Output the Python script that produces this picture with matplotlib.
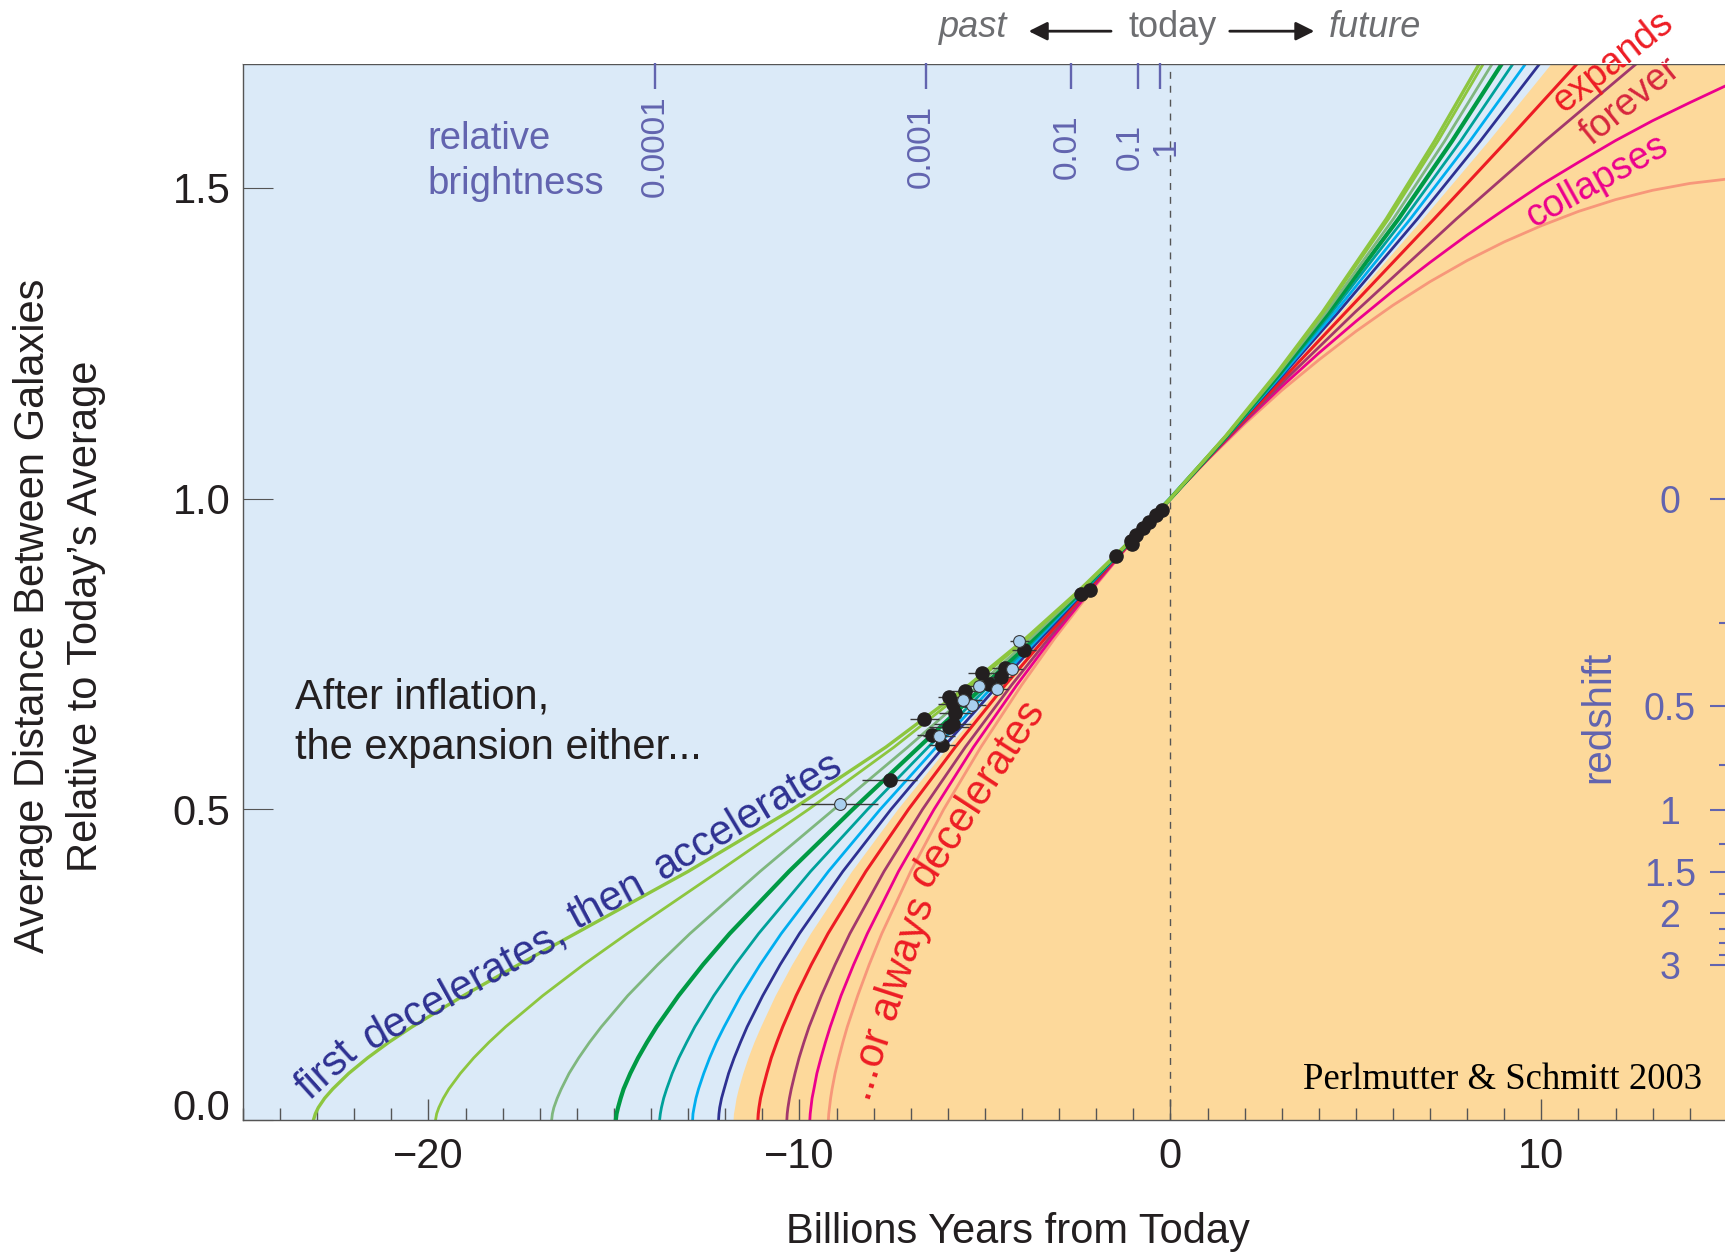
import numpy as np
import matplotlib
matplotlib.use("Agg")
import matplotlib.pyplot as plt
from matplotlib.transforms import ScaledTranslation

plt.rcParams["font.family"] = ["Liberation Sans", "DejaVu Sans"]

# scale factor levels (y) shared by the expanding models
A_LEVELS = [0.0, 0.01, 0.02, 0.035, 0.05, 0.075, 0.1, 0.125, 0.15, 0.2, 0.25, 0.3, 0.4,
            0.5, 0.6, 0.7, 0.775, 0.85, 0.925, 1.0, 1.1, 1.2, 1.3, 1.45, 1.575, 1.7]

# time (billions of years from today) at each level, one list per curve
T_095 = [-23.10, -23.05, -22.97, -22.80, -22.58, -22.15, -21.64, -21.07, -20.44, -19.06, -17.57, -16.04,
         -13.00, -10.19, -7.67, -5.43, -3.90, -2.50, -1.20, 0.0, 1.48, 2.84, 4.10, 5.82, 7.12, 8.33]
T_090 = [-19.81, -19.78, -19.72, -19.60, -19.45, -19.14, -18.78, -18.37, -17.92, -16.92, -15.82, -14.64,
         -12.18, -9.75, -7.45, -5.33, -3.86, -2.48, -1.20, 0.0, 1.49, 2.86, 4.13, 5.88, 7.21, 8.44]
T_080 = [-16.68, -16.66, -16.62, -16.53, -16.42, -16.21, -15.95, -15.66, -15.34, -14.63, -13.82, -12.95,
         -11.06, -9.07, -7.08, -5.16, -3.77, -2.45, -1.19, 0.0, 1.50, 2.89, 4.20, 6.01, 7.39, 8.68]
T_070 = [-14.95, -14.93, -14.89, -14.82, -14.74, -14.56, -14.35, -14.11, -13.85, -13.26, -12.60, -11.88,
         -10.28, -8.56, -6.78, -5.00, -3.69, -2.42, -1.19, 0.0, 1.51, 2.93, 4.27, 6.15, 7.59, 8.94]
T_060 = [-13.77, -13.75, -13.72, -13.66, -13.58, -13.43, -13.25, -13.04, -12.82, -12.31, -11.73, -11.10,
         -9.70, -8.16, -6.53, -4.87, -3.62, -2.39, -1.18, 0.0, 1.52, 2.97, 4.35, 6.30, 7.82, 9.24]
T_050 = [-12.88, -12.87, -12.84, -12.79, -12.72, -12.58, -12.42, -12.24, -12.03, -11.58, -11.06, -10.49,
         -9.22, -7.82, -6.31, -4.75, -3.56, -2.36, -1.17, 0.0, 1.53, 3.01, 4.44, 6.47, 8.07, 9.58]
T_040 = [-12.18, -12.17, -12.15, -12.10, -12.03, -11.91, -11.76, -11.59, -11.41, -10.99, -10.52, -10.00,
         -8.83, -7.53, -6.12, -4.64, -3.49, -2.33, -1.17, 0.0, 1.54, 3.05, 4.53, 6.66, 8.35, 9.96]
T_EDGE = [-11.79, -11.78, -11.75, -11.71, -11.65, -11.53, -11.39, -11.23, -11.05, -10.66, -10.21, -9.71,
          -8.60, -7.36, -6.01, -4.57, -3.46, -2.32, -1.16, 0.0, 1.55, 3.08, 4.59, 6.79, 8.56, 10.26]
T_020 = [-11.12, -11.11, -11.09, -11.05, -10.99, -10.88, -10.76, -10.61, -10.45, -10.09, -9.68, -9.23,
         -8.21, -7.06, -5.80, -4.45, -3.38, -2.28, -1.15, 0.0, 1.56, 3.15, 4.73, 7.11, 9.06, 10.97]
T_000 = [-10.34, -10.33, -10.31, -10.27, -10.22, -10.12, -10.01, -9.88, -9.74, -9.41, -9.04, -8.64,
         -7.72, -6.68, -5.53, -4.28, -3.28, -2.24, -1.14, 0.0, 1.59, 3.25, 4.98, 7.71, 10.09, 12.57]

# the two collapsing curves: past on A_LEVELS up to 1.0, future on a time grid
T_M020_PAST = [-9.72, -9.71, -9.69, -9.66, -9.61, -9.53, -9.42, -9.30, -9.17, -8.88, -8.54, -8.17,
               -7.33, -6.37, -5.31, -4.14, -3.20, -2.19, -1.13, 0.0]
T_M040_PAST = [-9.22, -9.21, -9.19, -9.16, -9.12, -9.04, -8.94, -8.83, -8.71, -8.43, -8.12, -7.78,
               -7.00, -6.11, -5.11, -4.01, -3.12, -2.15, -1.12, 0.0]
T_FUTURE = [1, 2, 3, 4, 5, 6, 7, 8, 9, 10, 11, 12, 13, 14, 15]
A_M020_FUTURE = [1.063, 1.123, 1.180, 1.234, 1.285, 1.334, 1.380, 1.424, 1.465, 1.505,
                 1.541, 1.576, 1.608, 1.637, 1.665]
A_M040_FUTURE = [1.062, 1.120, 1.174, 1.223, 1.269, 1.311, 1.349, 1.383, 1.413, 1.439,
                 1.462, 1.481, 1.496, 1.507, 1.514]

# supernovae
SN_X = [-0.23, -0.40, -0.57, -0.73, -0.93, -1.06, -1.03, -1.48, -2.16, -2.41,
        -3.94, -4.47, -4.56, -5.08, -4.88, -5.53, -5.97, -5.53, -5.87, -5.80,
        -5.87, -5.97, -6.63, -6.42, -6.15, -7.57]
SN_Y = [0.982, 0.973, 0.962, 0.953, 0.941, 0.931, 0.927, 0.908, 0.853, 0.847,
        0.757, 0.728, 0.713, 0.720, 0.701, 0.690, 0.680, 0.676, 0.669, 0.655,
        0.638, 0.633, 0.645, 0.619, 0.604, 0.547]
SN_XERR = [0, 0, 0, 0, 0, 0, 0, 0, 0, 0,
           0.32, 0.35, 0.30, 0.38, 0.32, 0.35, 0.30, 0.45, 0.40, 0.45,
           0.50, 0.55, 0.40, 0.40, 0.35, 0.75]
SN2_X = [-4.07, -4.27, -5.17, -4.67, -5.35, -6.24, -5.60, -8.92]
SN2_Y = [0.770, 0.725, 0.698, 0.694, 0.667, 0.618, 0.676, 0.508]
SN2_XERR = [0.25, 0.30, 0.40, 0.30, 0.38, 0.42, 0.40, 1.05]

# extra scales
BRIGHT_T = [-13.90, -6.60, -2.69, -0.88, -0.28]
BRIGHT_LABELS = ["0.0001", "0.001", "0.01", "0.1", "1"]
Z_MAJOR = [0, 0.5, 1, 1.5, 2, 3]
Z_LABELS = ["0", "0.5", "1", "1.5", "2", "3"]
Z_MINOR = [0.25, 0.75, 1.25, 1.75, 2.25, 2.5, 2.75]

BLUE_BG = "#DBEAF8"
ORANGE_BG = "#FDD99B"
SLATE = "#6264AF"
NAVY = "#2E3192"
INK = "#231F20"
GRAY = "#6D6E71"
RED = "#ED1C24"

fig = plt.figure(figsize=(17.25, 12.55), dpi=100)
ax = fig.add_axes([243 / 1725, 135 / 1255, 1482 / 1725, 1056.5 / 1255])
ax.set_facecolor(BLUE_BG)
ax.set_xlim(-25, 14.95)
ax.set_ylim(0, 1.7)

# decelerating-today region
ax.fill_betweenx(A_LEVELS, T_EDGE, ax.get_xlim()[1], color=ORANGE_BG, lw=0, zorder=0.5)

n_past = len(T_M020_PAST)
curves = [
    (T_M040_PAST + T_FUTURE, A_LEVELS[:n_past] + A_M040_FUTURE, "#F7977A", 2.0),
    (T_M020_PAST + T_FUTURE, A_LEVELS[:n_past] + A_M020_FUTURE, "#EC008C", 2.0),
    (T_000, A_LEVELS, "#A3386C", 2.0),
    (T_020, A_LEVELS, RED, 2.2),
    (T_040, A_LEVELS, "#2E3192", 2.0),
    (T_050, A_LEVELS, "#00AEEF", 2.0),
    (T_060, A_LEVELS, "#00A19A", 2.0),
    (T_070, A_LEVELS, "#009A44", 3.0),
    (T_080, A_LEVELS, "#7FB77E", 2.0),
    (T_090, A_LEVELS, "#8DC63F", 2.0),
    (T_095, A_LEVELS, "#8DC63F", 2.4),
]
for t, a, c, lw in curves:
    ax.plot(t, a, color=c, lw=lw, solid_joinstyle="round", zorder=2)

ax.axvline(0, color="#555555", lw=1.0, ls=(0, (5, 5)), zorder=1.5)

ax.errorbar(SN_X, SN_Y, xerr=SN_XERR, fmt="o", ms=9.5, mfc=INK, mec=INK,
            ecolor="#3A3A3A", elinewidth=1, capsize=0, zorder=4)
ax.errorbar(SN2_X, SN2_Y, xerr=SN2_XERR, fmt="o", ms=8.5, mfc="#A9CFEF", mec="#3A3A3A",
            mew=0.8, ecolor="#3A3A3A", elinewidth=1, capsize=0, zorder=4)

# main axes
ax.set_xticks([-20, -10, 0, 10])
ax.set_xticks(np.arange(-25, 15, 1), minor=True)
ax.set_yticks([0, 0.5, 1.0, 1.5])
ax.yaxis.set_major_formatter("{x:.1f}")
ax.tick_params(axis="x", which="major", direction="in", length=15, width=1, color="#555555",
               labelsize=30, labelcolor=INK, pad=12)
ax.tick_params(axis="x", which="minor", direction="in", length=8.5, width=1, color="#555555")
ax.tick_params(axis="y", direction="in", length=21.6, width=0.8, color="#555555",
               labelsize=30, labelcolor=INK, pad=9)
# the 0.0 label sits a little above the bottom axis line
lbl0 = ax.get_yticklabels()[0]
lbl0.set_transform(lbl0.get_transform() + ScaledTranslation(0, 11.5 / 72, fig.dpi_scale_trans))
ax.spines["right"].set_visible(False)
for s in ["left", "bottom", "top"]:
    ax.spines[s].set_color("#555555")
    ax.spines[s].set_linewidth(1)


# redshift scale on the right edge
def a_to_z(a):
    return 1.0 / np.clip(a, 1e-3, None) - 1.0


def z_to_a(z):
    return 1.0 / (1.0 + np.clip(z, -0.999, None))


sec_r = ax.secondary_yaxis("right", functions=(a_to_z, z_to_a))
sec_r.set_zorder(3)
sec_r.set_yticks(Z_MAJOR, labels=Z_LABELS)
sec_r.set_yticks(Z_MINOR, minor=True)
sec_r.tick_params(which="major", direction="in", length=11, width=1.5, colors=SLATE,
                  labelsize=27, pad=-39.6)
sec_r.tick_params(which="minor", direction="in", length=4, width=1.5, colors=SLATE)
for lbl in sec_r.get_yticklabels():
    lbl.set_horizontalalignment("center")
sec_r.spines["right"].set_visible(False)

# relative brightness scale along the top
sec_t = ax.secondary_xaxis("top")
sec_t.set_zorder(3)
sec_t.set_xticks(BRIGHT_T, labels=BRIGHT_LABELS)
sec_t.tick_params(direction="in", length=18.7, width=1.7, colors=SLATE, labelsize=24,
                  labelrotation=90, pad=-59.8)
# small sideways nudges so the crowded labels near today do not collide
for lbl, dx in zip(sec_t.get_xticklabels(), [0, -2.9, -2.2, -5.5, 4.5]):
    lbl.set_verticalalignment("center")
    lbl.set_transform(lbl.get_transform() + ScaledTranslation(dx / 72, 0, fig.dpi_scale_trans))
sec_t.spines["top"].set_visible(False)

# labels
fig.text(1017.6 / 1725, 1 - 1232 / 1255, "Billions Years from Today", fontsize=30,
         color=INK, ha="center", va="center")
fig.text(33 / 1725, 1 - 616 / 1255, "Average Distance Between Galaxies", fontsize=30,
         color=INK, ha="center", va="center", rotation=90)
fig.text(86 / 1725, 1 - 616 / 1255, "Relative to Today\u2019s Average", fontsize=30,
         color=INK, ha="center", va="center", rotation=90)

# annotations
ax.text(-23.60, 0.680, "After inflation,", fontsize=30, color=INK, ha="left", va="center")
ax.text(-23.60, 0.598, "the expansion either...", fontsize=30, color=INK, ha="left", va="center")
ax.text(-20.04, 1.579, "relative", fontsize=27.5, color=SLATE, ha="left", va="center")
ax.text(-20.04, 1.506, "brightness", fontsize=27.5, color=SLATE, ha="left", va="center")
ax.text(11.54, 0.648, "redshift", fontsize=29, color=SLATE, ha="center", va="center", rotation=90)

for word, x, y, rot in [("first", -23.2, 0.03, 42), ("decelerates,", -21.55, 0.113, 29),
                        ("then", -16.0, 0.305, 28), ("accelerates", -13.7, 0.385, 31)]:
    ax.text(x, y, word, fontsize=30, color=NAVY, rotation=rot, rotation_mode="anchor",
            ha="left", va="baseline")

ax.text(-7.52, 0.195, "...or always", fontsize=30, color=RED, rotation=72,
        rotation_mode="anchor", ha="center", va="center")
ax.text(-5.20, 0.525, "decelerates", fontsize=30, color=RED, rotation=57,
        rotation_mode="anchor", ha="center", va="center")

ax.text(11.95, 1.703, "expands", fontsize=27, color=RED, rotation=38,
        rotation_mode="anchor", ha="center", va="center", clip_on=False)
ax.text(12.39, 1.638, "forever", fontsize=27, color="#D7263D", rotation=39,
        rotation_mode="anchor", ha="center", va="center")
ax.text(11.50, 1.510, "collapses", fontsize=27, color="#EC008C", rotation=29,
        rotation_mode="anchor", ha="center", va="center")

ax.text(8.94, 0.064, "Perlmutter & Schmitt 2003", fontsize=26.5, color="black",
        family="Liberation Serif", ha="center", va="center")

# past <- today -> future
ax.text(-5.31, 1.758, "past", fontsize=26, style="italic", color=GRAY, ha="center",
        va="center", clip_on=False)
ax.text(0.06, 1.758, "today", fontsize=26, color=GRAY, ha="center", va="center", clip_on=False)
ax.text(5.51, 1.758, "future", fontsize=26, style="italic", color=GRAY, ha="center",
        va="center", clip_on=False)
arrow = dict(arrowstyle="-|>", color=INK, lw=2, mutation_scale=28, shrinkA=0, shrinkB=0)
ax.annotate("", xy=(-3.82, 1.752), xytext=(-1.60, 1.752), arrowprops=arrow,
            annotation_clip=False)
ax.annotate("", xy=(3.88, 1.752), xytext=(1.60, 1.752), arrowprops=arrow,
            annotation_clip=False)

fig.savefig("out.png", dpi=100)
